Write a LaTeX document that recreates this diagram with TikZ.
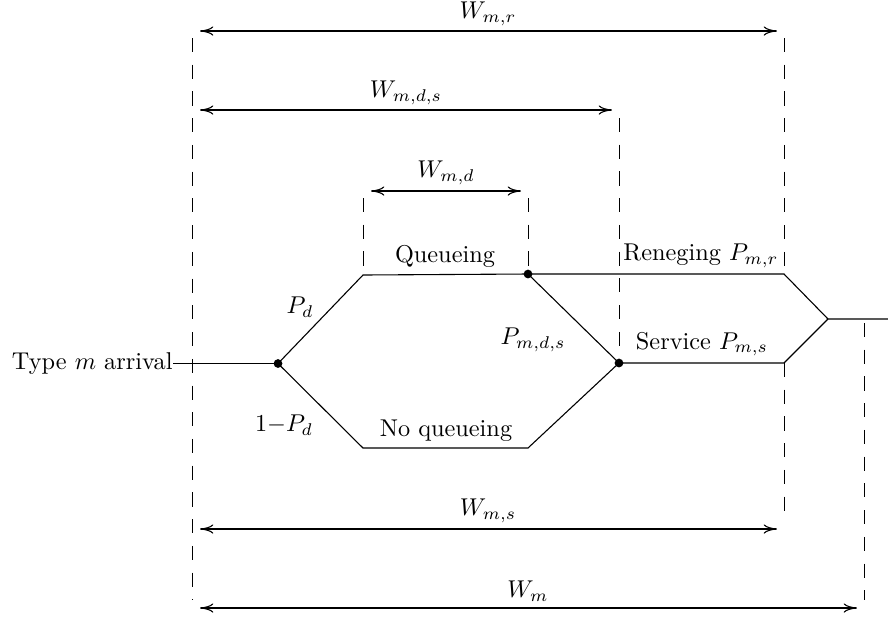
\documentclass[tikz,border=0pt]{standalone}
\usetikzlibrary{arrows.meta}
\begin{document}
\begin{tikzpicture}[x=0.4115pt,y=-0.4115pt,
  guide/.style={line width=0.4pt, dash pattern=on 5.8pt off 5.2pt},
  span/.style={{To[length=5.5pt,width=3.8pt]}-{To[length=5.5pt,width=3.8pt]}, line width=0.45pt},
  flow/.style={line width=0.45pt},
  dot/.style={circle, fill, inner sep=0pt, minimum size=3.6pt},
  lbl/.style={inner sep=0pt}]
\useasboundingbox (0,0) rectangle (888,621);

% flow points
\node[lbl, anchor=east] (arr) at (173,363.5) {Type $m$ arrival};
\node[dot] (a) at (278,363.5) {};
\coordinate (q1) at (363,275);
\node[dot] (q2) at (528,274) {};
\coordinate (r1) at (784,274);
\coordinate (m) at (828,319);
\coordinate (out) at (888,319);
\coordinate (n1) at (363,448);
\coordinate (n2) at (528,448);
\node[dot] (s0) at (619,363) {};
\coordinate (s1) at (784,363);

\draw[flow] (arr.east) -- (a.center);
\draw[flow] (a.center) -- (q1) -- (q2.center) -- (r1) -- (m) -- (out);
\draw[flow] (a.center) -- (n1) -- (n2) -- (s0.center) -- (s1) -- (m);
\draw[flow] (q2.center) -- (s0.center);

% guide lines
\coordinate (g1t) at (192,38);  \coordinate (g1b) at (192,600);
\coordinate (g2t) at (784,38);  \coordinate (g2b) at (784,521);
\coordinate (g3t) at (619,118);
\coordinate (g4t) at (363,198);
\coordinate (g5t) at (528,198);
\coordinate (g6t) at (864,323); \coordinate (g6b) at (864,600);
\draw[guide] (g1t) -- (g1b);
\draw[guide] (g2t) -- (r1);
\draw[guide] (s1) -- (g2b);
\draw[guide] (g3t) -- (s0.center);
\draw[guide] (g4t) -- (q1);
\draw[guide] (g5t) -- (q2.center);
\draw[guide] (g6t) -- (g6b);

% spans
\coordinate (wr1) at (200,31);  \coordinate (wr2) at (777,31);
\coordinate (wds1) at (200,110); \coordinate (wds2) at (612,110);
\coordinate (wd1) at (371,191); \coordinate (wd2) at (521,191);
\coordinate (ws1) at (200,529); \coordinate (ws2) at (777,529);
\coordinate (w1) at (200,608);  \coordinate (w2) at (857,608);
\draw[span] (wr1) -- (wr2);
\draw[span] (wds1) -- (wds2);
\draw[span] (wd1) -- (wd2);
\draw[span] (ws1) -- (ws2);
\draw[span] (w1) -- (w2);

\node[lbl] (lwr) at (488,14) {$W_{m,r}$};
\node[lbl] (lwds) at (406,93) {$W_{m,d,s}$};
\node[lbl] (lwd) at (446,173) {$W_{m,d}$};
\node[lbl] (lws) at (488,511) {$W_{m,s}$};
\node[lbl] (lw) at (528,591) {$W_{m}$};

% labels
\node[lbl] (lpd) at (300,307) {$P_d$};
\node[lbl] (lnpd) at (284,425) {$1{-}P_d$};
\node[lbl] (lq) at (445,256) {Queueing};
\node[lbl] (lnq) at (446,431) {No queueing};
\node[lbl] (lpmds) at (533,340) {$P_{m,d,s}$};
\node[lbl] (lren) at (701,256) {Reneging $P_{m,r}$};
\node[lbl] (lser) at (702,344) {Service $P_{m,s}$};
\end{tikzpicture}
\end{document}
